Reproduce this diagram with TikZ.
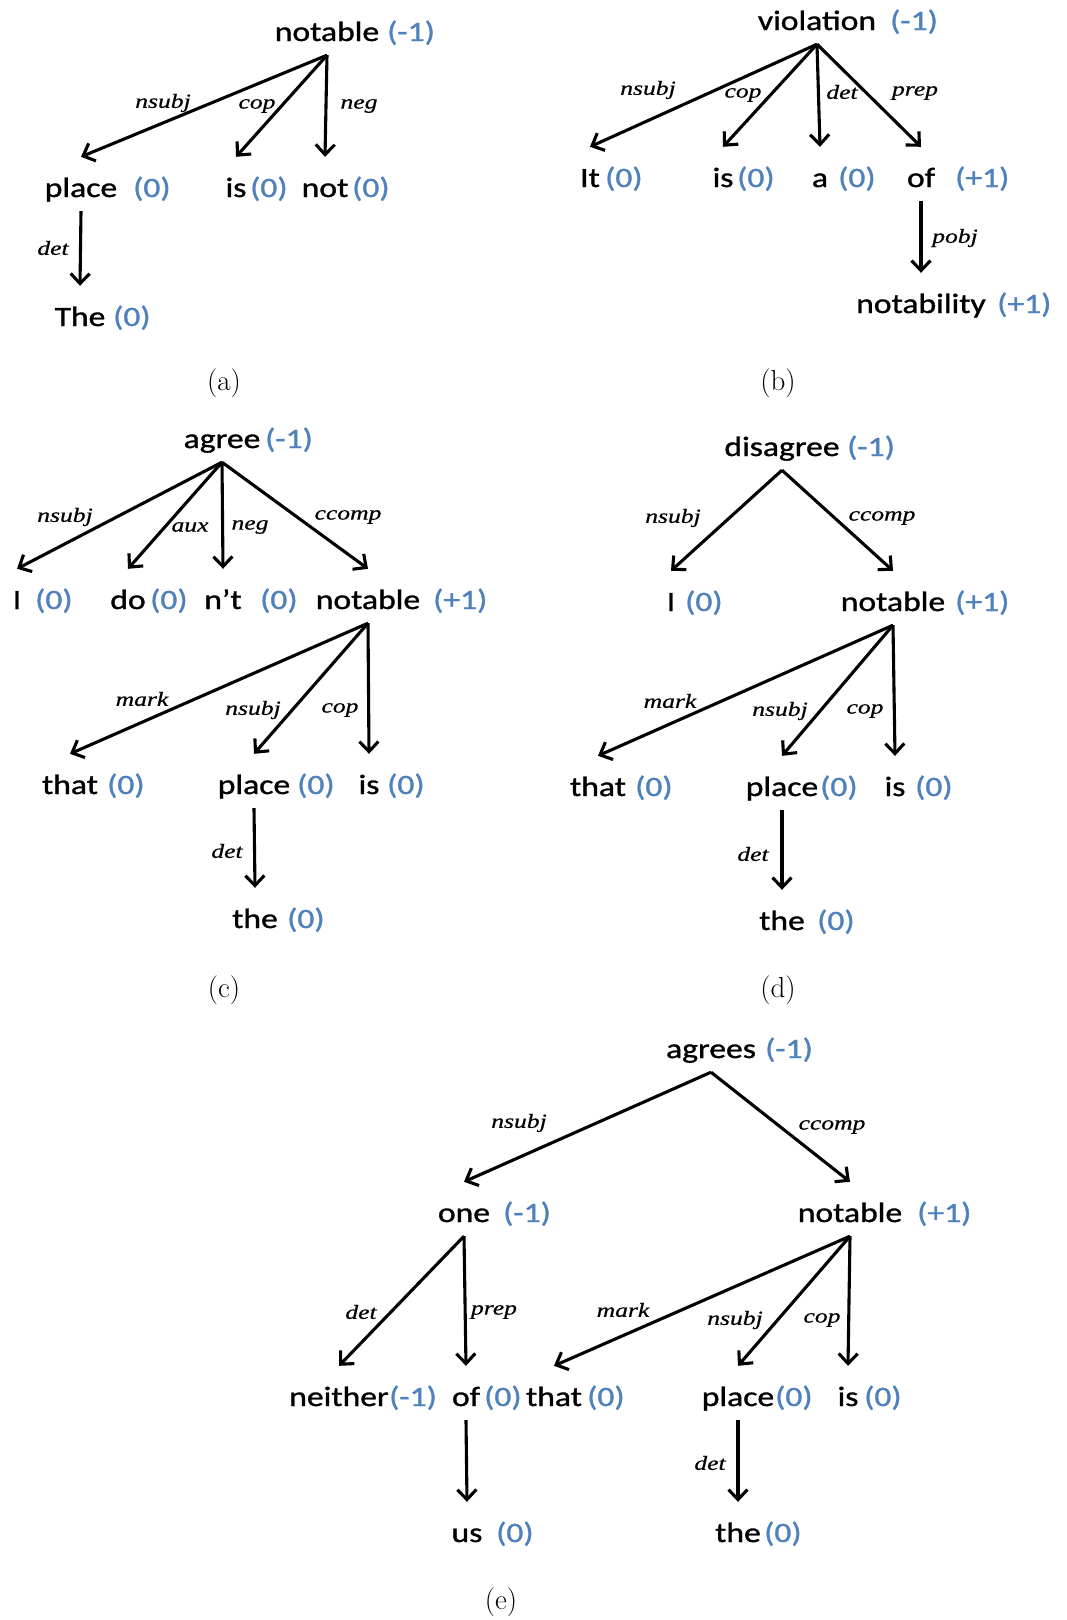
\documentclass[tikz,border=0pt]{standalone}
\usepackage{fontspec}
\usepackage{graphicx}
\usetikzlibrary{arrows.meta}
\newfontfamily\wordfont[FakeBold=1.0]{Carlito}
\newfontfamily\relfont[FakeBold=0.5]{Liberation Serif}
\definecolor{scoreblue}{RGB}{79,129,189}
% widened glyphs, as in the original tree drawings
\newcommand\sx[1]{\scalebox{1.2}[1]{#1}}
\newcommand\rx[1]{\scalebox{1.28}[1]{#1}}
% \wtok{name}{centre x}{mid y}{word}{score x}{score}
\newcommand\wtok[6]{%
  \node[word] (#1) at (#2,#3+10) {\sx{#4}};
  \node[score] (#1s) at (#5,#3+10) {\sx{#6}};}
\begin{document}
\begin{tikzpicture}[x=1pt,y=-1pt,
  word/.style={anchor=base, inner sep=0pt, text height=40pt, text depth=14pt,
    font=\wordfont\fontsize{28}{32}\selectfont},
  score/.style={anchor=base west, inner sep=0pt, text=scoreblue,
    font=\wordfont\fontsize{28}{32}\selectfont},
  rel/.style={inner sep=0pt, font=\relfont\itshape\fontsize{20}{24}\selectfont},
  capt/.style={inner sep=0pt, font=\fontsize{29}{34}\selectfont},
  dep/.style={line width=3.1pt, -{Straight Barb[length=10pt,width=19pt]}}]
\useasboundingbox (0,0) rectangle (1067,1620);
\fill[white] (0,0) rectangle (1067,1620);

% ---------- (a) ----------
\wtok{a1}{327}{31}{notable}{387}{(-1)}
\wtok{a2}{81}{187}{place}{133}{(0)}
\wtok{a3}{236}{187}{is}{250}{(0)}
\wtok{a4}{325}{187}{not}{352}{(0)}
\wtok{a5}{80}{316}{The}{113}{(0)}
\draw[dep] (a1.south) -- (a2.north);
\draw[dep] (a1.south) -- (a3.north);
\draw[dep] (a1.south) -- (a4.north);
\draw[dep] (a2.south) -- (a5.north);
\node[rel] (ar1) at (163,103) {\rx{nsubj}};
\node[rel] (ar2) at (257,106) {\rx{cop}};
\node[rel] (ar3) at (359,106) {\rx{neg}};
\node[rel] (ar4) at (53,248) {\rx{det}};
\node[capt] (capa) at (224,383) {(a)};

% ---------- (b) ----------
\wtok{b1}{817}{20}{violation}{890}{(-1)}
\wtok{b2}{590}{177}{It}{605}{(0)}
\wtok{b3}{723}{177}{is}{737}{(0)}
\wtok{b4}{820}{177}{a}{838}{(0)}
\wtok{b5}{921}{177}{of}{955}{(+1)}
\wtok{b6}{921}{303}{notability}{997}{(+1)}
\draw[dep] (b1.south) -- (b2.north);
\draw[dep] (b1.south) -- (b3.north);
\draw[dep] (b1.south) -- (b4.north);
\draw[dep] (b1.south) -- (b5.north);
\draw[dep] (b5.south) -- (b6.north);
\node[rel] (br1) at (648,90) {\rx{nsubj}};
\node[rel] (br2) at (743,95) {\rx{cop}};
\node[rel] (br3) at (842,92) {\rx{det}};
\node[rel] (br4) at (915,93) {\rx{prep}};
\node[rel] (br5) at (955,238) {\rx{pobj}};
\node[capt] (capb) at (778,383) {(b)};

% ---------- (c) ----------
\wtok{c1}{222}{438}{agree}{265}{(-1)}
\wtok{c2}{17}{599}{I}{35}{(0)}
\wtok{c3}{128}{599}{do}{150}{(0)}
\wtok{c4}{223}{599}{n’t}{260}{(0)}
\wtok{c5}{368}{599}{notable}{433}{(+1)}
\wtok{c6}{70}{784}{that}{107}{(0)}
\wtok{c7}{254}{784}{place}{297}{(0)}
\wtok{c8}{369}{784}{is}{387}{(0)}
\wtok{c9}{255}{918}{the}{287}{(0)}
\draw[dep] (c1.south) -- (c2.north);
\draw[dep] (c1.south) -- (c3.north);
\draw[dep] (c1.south) -- (c4.north);
\draw[dep] (c1.south) -- (c5.north);
\draw[dep] (c5.south) -- (c6.north);
\draw[dep] (c5.south) -- (c7.north);
\draw[dep] (c5.south) -- (c8.north);
\draw[dep] (c7.south) -- (c9.north);
\node[rel] (cr1) at (65,517) {\rx{nsubj}};
\node[rel] (cr2) at (190,527) {\rx{aux}};
\node[rel] (cr3) at (250,527) {\rx{neg}};
\node[rel] (cr4) at (348,517) {\rx{ccomp}};
\node[rel] (cr5) at (142,699) {\rx{mark}};
\node[rel] (cr6) at (253,710) {\rx{nsubj}};
\node[rel] (cr7) at (340,710) {\rx{cop}};
\node[rel] (cr8) at (227,851) {\rx{det}};
\node[capt] (capc) at (224,990) {(c)};

% ---------- (d) ----------
\wtok{d1}{782}{446}{disagree}{847}{(-1)}
\wtok{d2}{671}{601}{I}{685}{(0)}
\wtok{d3}{893}{601}{notable}{955}{(+1)}
\wtok{d4}{598}{786}{that}{635}{(0)}
\wtok{d5}{782}{786}{place}{820}{(0)}
\wtok{d6}{895}{786}{is}{915}{(0)}
\wtok{d7}{782}{920}{the}{817}{(0)}
\draw[dep] (d1.south) -- (d2.north);
\draw[dep] (d1.south) -- (d3.north);
\draw[dep] (d3.south) -- (d4.north);
\draw[dep] (d3.south) -- (d5.north);
\draw[dep] (d3.south) -- (d6.north);
\draw[dep] (d5.south) -- (d7.north);
\node[rel] (dr1) at (673,518) {\rx{nsubj}};
\node[rel] (dr2) at (882,518) {\rx{ccomp}};
\node[rel] (dr3) at (670,701) {\rx{mark}};
\node[rel] (dr4) at (780,711) {\rx{nsubj}};
\node[rel] (dr5) at (865,711) {\rx{cop}};
\node[rel] (dr6) at (753,854) {\rx{det}};
\node[capt] (capd) at (778,990) {(d)};

% ---------- (e) ----------
\wtok{e1}{711}{1048}{agrees}{765}{(-1)}
\wtok{e2}{464}{1212}{one}{503}{(-1)}
\wtok{e3}{850}{1212}{notable}{917}{(+1)}
\wtok{e4}{339}{1396}{neither}{389}{(-1)}
\wtok{e5}{466}{1396}{of}{484}{(0)}
\wtok{e6}{554}{1396}{that}{587}{(0)}
\wtok{e7}{738}{1396}{place}{775}{(0)}
\wtok{e8}{848}{1396}{is}{864}{(0)}
\wtok{e9}{467}{1532}{us}{496}{(0)}
\wtok{e10}{738}{1532}{the}{764}{(0)}
\draw[dep] (e1.south) -- (e2.north);
\draw[dep] (e1.south) -- (e3.north);
\draw[dep] (e2.south) -- (e4.north);
\draw[dep] (e2.south) -- (e5.north);
\draw[dep] (e3.south) -- (e6.north);
\draw[dep] (e3.south) -- (e7.north);
\draw[dep] (e3.south) -- (e8.north);
\draw[dep] (e5.south) -- (e9.north);
\draw[dep] (e7.south) -- (e10.north);
\node[rel] (er1) at (519,1123) {\rx{nsubj}};
\node[rel] (er2) at (832,1127) {\rx{ccomp}};
\node[rel] (er3) at (361,1312) {\rx{det}};
\node[rel] (er4) at (494,1312) {\rx{prep}};
\node[rel] (er5) at (623,1310) {\rx{mark}};
\node[rel] (er6) at (735,1320) {\rx{nsubj}};
\node[rel] (er7) at (822,1320) {\rx{cop}};
\node[rel] (er8) at (710,1463) {\rx{det}};
\node[capt] (cape) at (501,1602) {(e)};
\end{tikzpicture}
\end{document}
